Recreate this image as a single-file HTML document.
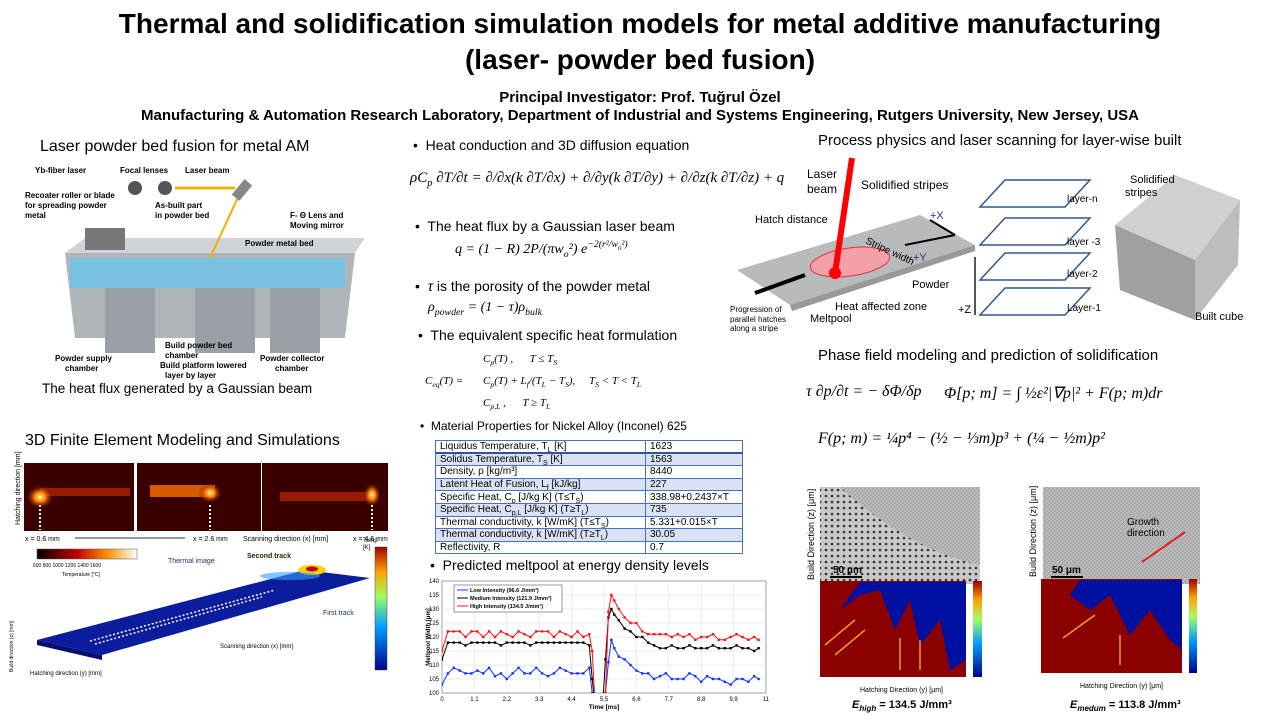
<!DOCTYPE html>
<html><head><meta charset="utf-8">
<style>
body{margin:0;width:1280px;height:720px;background:#fff;position:relative;overflow:hidden;font-family:"Liberation Sans",sans-serif;color:#000}
.a{position:absolute;white-space:nowrap}
sub,sup{line-height:0;font-size:70%}
.eq{font-family:"Liberation Serif",serif;font-style:italic}
table{border-collapse:collapse;font-size:10px}
td{border:1px solid #4472c4;padding:0 4px;height:12.6px;line-height:11px;box-sizing:border-box;overflow:hidden}
tr:nth-child(even) td{background:#d9e1f2}
</style></head><body>
<div class="a" style="left:0;width:1280px;text-align:center;top:8px;font-size:28px;font-weight:bold">Thermal and solidification simulation models for metal additive manufacturing</div>
<div class="a" style="left:0;width:1280px;text-align:center;top:44px;font-size:28px;font-weight:bold">(laser- powder bed fusion)</div>
<div class="a" style="left:0;width:1280px;text-align:center;top:89px;font-size:15px;font-weight:bold">Principal  Investigator: Prof. Tuğrul Özel</div>
<div class="a" style="left:0;width:1280px;text-align:center;top:107px;font-size:15px;font-weight:bold">Manufacturing &amp; Automation Research Laboratory, Department of Industrial and Systems Engineering, Rutgers University, New Jersey, USA</div>

<!-- left column -->
<div class="a" style="left:40px;top:138px;font-size:16px">Laser powder bed fusion for metal AM</div>
<svg class="a" style="left:25px;top:158px" width="350" height="228">
<polygon points="40,95 330,95 320,180 50,180" fill="#b0b5ba"/>
<polygon points="40,95 330,95 340,80 60,80" fill="#d0d4d8"/>
<rect x="45" y="100" width="275" height="30" fill="#6ec3e6" opacity=".85"/>
<rect x="80" y="130" width="50" height="65" fill="#9aa0a6"/><rect x="170" y="130" width="60" height="65" fill="#9aa0a6"/><rect x="245" y="130" width="50" height="65" fill="#9aa0a6"/>
<rect x="60" y="70" width="40" height="22" fill="#777"/>
<line x1="150" y1="30" x2="210" y2="30" stroke="#f0b000" stroke-width="3"/><line x1="215" y1="35" x2="185" y2="100" stroke="#f0b000" stroke-width="2"/>
<circle cx="110" cy="30" r="7" fill="#555"/><circle cx="140" cy="30" r="7" fill="#555"/><rect x="212" y="22" width="10" height="20" fill="#888" transform="rotate(40 217 32)"/>
<text x="10" y="15" font-size="8" font-weight="bold">Yb-fiber laser</text><text x="95" y="15" font-size="8" font-weight="bold">Focal lenses</text><text x="160" y="15" font-size="8" font-weight="bold">Laser beam</text>
<text x="265" y="60" font-size="8" font-weight="bold">F- Θ Lens and</text><text x="265" y="70" font-size="8" font-weight="bold">Moving mirror</text>
<text x="0" y="40" font-size="8" font-weight="bold">Recoater roller or blade</text><text x="0" y="50" font-size="8" font-weight="bold">for spreading powder</text><text x="0" y="60" font-size="8" font-weight="bold">metal</text>
<text x="130" y="50" font-size="8" font-weight="bold">As-built part</text><text x="130" y="60" font-size="8" font-weight="bold">in powder bed</text><text x="220" y="88" font-size="8" font-weight="bold">Powder metal bed</text>
<text x="140" y="190" font-size="8" font-weight="bold">Build powder bed</text><text x="140" y="200" font-size="8" font-weight="bold">chamber</text><text x="135" y="210" font-size="8" font-weight="bold">Build platform lowered</text><text x="140" y="220" font-size="8" font-weight="bold">layer by layer</text>
<text x="30" y="203" font-size="8" font-weight="bold">Powder supply</text><text x="40" y="213" font-size="8" font-weight="bold">chamber</text><text x="235" y="203" font-size="8" font-weight="bold">Powder collector</text><text x="250" y="213" font-size="8" font-weight="bold">chamber</text>
</svg>
<div class="a" style="left:42px;top:381px;font-size:13.5px">The heat flux generated by a Gaussian beam</div>
<div class="a" style="left:25px;top:432px;font-size:16px">3D Finite Element Modeling and Simulations</div>
<svg class="a" style="left:0;top:450px" width="400" height="260">
<defs><radialGradient id="hs"><stop offset="0" stop-color="#fff8a0"/><stop offset=".4" stop-color="#ff8000"/><stop offset="1" stop-color="#5a0000" stop-opacity="0"/></radialGradient>
<linearGradient id="tc"><stop offset="0" stop-color="#000"/><stop offset=".4" stop-color="#c00000"/><stop offset=".7" stop-color="#ff9000"/><stop offset="1" stop-color="#fff"/></linearGradient>
<linearGradient id="jet" x1="0" y1="1" x2="0" y2="0"><stop offset="0" stop-color="#00008f"/><stop offset=".35" stop-color="#00a0ff"/><stop offset=".6" stop-color="#a0ff60"/><stop offset=".8" stop-color="#ffa000"/><stop offset="1" stop-color="#a00000"/></linearGradient></defs>
<rect x="24" y="13" width="110" height="68" fill="#3a0000"/><rect x="137" y="13" width="124" height="68" fill="#3a0000"/><rect x="262" y="13" width="126" height="68" fill="#3a0000"/>
<rect x="40" y="38" width="90" height="8" fill="#b02000" opacity=".8"/><ellipse cx="40" cy="47" rx="14" ry="12" fill="url(#hs)"/>
<rect x="150" y="35" width="65" height="12" fill="#ff7000" opacity=".8"/><ellipse cx="210" cy="43" rx="12" ry="10" fill="url(#hs)"/>
<rect x="280" y="42" width="90" height="9" fill="#b02000" opacity=".8"/><ellipse cx="372" cy="45" rx="9" ry="12" fill="url(#hs)"/>
<line x1="40" y1="55" x2="40" y2="80" stroke="#fff" stroke-dasharray="2,2" stroke-width="2"/><line x1="210" y1="55" x2="210" y2="80" stroke="#fff" stroke-dasharray="2,2" stroke-width="2"/><line x1="372" y1="55" x2="372" y2="80" stroke="#fff" stroke-dasharray="2,2" stroke-width="2"/>
<text x="25" y="91" font-size="7">x = 0.6 mm</text><line x1="75" y1="88" x2="185" y2="88" stroke="#203060"/><text x="193" y="91" font-size="7">x = 2.6 mm</text><text x="243" y="91" font-size="7">Scanning direction (x) [mm]</text><text x="353" y="91" font-size="7">x = 4.6 mm</text>
<text x="20" y="75" font-size="7" transform="rotate(-90 20 75)">Hatching direction [mm]</text>
<rect x="37" y="99" width="100" height="10" fill="url(#tc)" stroke="#555" stroke-width=".5"/>
<text x="33" y="117" font-size="5">600   800   1000  1200  1400  1600</text><text x="62" y="126" font-size="5">Temperature [°C]</text>
<polygon points="37,190 305,120 370,128 102,205" fill="#0b1c9c"/><polygon points="37,190 102,205 102,210 37,195" fill="#071070"/>
<ellipse cx="312" cy="120" rx="14" ry="5" fill="#ffd000"/><ellipse cx="312" cy="119" rx="6" ry="2.5" fill="#c00000"/><ellipse cx="290" cy="126" rx="30" ry="4" fill="#30a0ff" opacity=".6"/>
<line x1="90" y1="191" x2="275" y2="140" stroke="#fff" stroke-dasharray="2,2" stroke-width="1.5"/><line x1="95" y1="194" x2="262" y2="147" stroke="#fff" stroke-dasharray="2,2" stroke-width="1.5"/>
<text x="168" y="113" font-size="7" fill="#203060">Thermal image</text><text x="247" y="108" font-size="7" font-weight="bold" fill="#302000">Second track</text><text x="323" y="165" font-size="7" fill="#203060">First track</text>
<text x="220" y="198" font-size="6">Scanning direction (x) [mm]</text><text x="30" y="225" font-size="6">Hatching direction (y) [mm]</text>
<text x="13" y="222" font-size="5" transform="rotate(-90 13 222)">Build direction (z) [mm]</text>
<rect x="375" y="97" width="12" height="123" fill="url(#jet)" stroke="#444" stroke-width=".5"/><text x="363" y="92" font-size="6">Temp</text><text x="363" y="99" font-size="6">[K]</text>
</svg>

<!-- middle column -->
<div class="a" style="left:413px;top:137px;font-size:14px">•&nbsp; Heat conduction and 3D diffusion equation</div>
<div class="a eq" style="left:410px;top:170px;font-size:15px">ρC<sub>p</sub> ∂T/∂t = ∂/∂x(k ∂T/∂x) + ∂/∂y(k ∂T/∂y) + ∂/∂z(k ∂T/∂z) + q</div>
<div class="a" style="left:415px;top:218px;font-size:14px">•&nbsp; The heat flux by a Gaussian laser beam</div>
<div class="a eq" style="left:455px;top:242px;font-size:14px">q = (1 − R) 2P/(πw<sub>o</sub>²) e<sup>−2(r²/w<sub>o</sub>²)</sup></div>
<div class="a" style="left:415px;top:278px;font-size:14px">•&nbsp; <i>τ</i> is the porosity of the powder metal</div>
<div class="a eq" style="left:428px;top:300px;font-size:14px">ρ<sub>powder</sub> = (1 − τ)ρ<sub>bulk</sub></div>
<div class="a" style="left:418px;top:327px;font-size:14px">•&nbsp; The equivalent specific heat formulation</div>
<div class="a eq" style="left:425px;top:348px;font-size:11px;line-height:22px">
<span style="position:absolute;top:22px">C<sub>eq</sub>(T) =</span>
<span style="position:absolute;left:58px;top:0">C<sub>p</sub>(T) ,&nbsp;&nbsp;&nbsp;&nbsp;&nbsp; T ≤ T<sub>S</sub></span>
<span style="position:absolute;left:58px;top:22px">C<sub>p</sub>(T) + L<sub>f</sub>/(T<sub>L</sub> − T<sub>S</sub>),&nbsp;&nbsp;&nbsp;&nbsp; T<sub>S</sub> &lt; T &lt; T<sub>L</sub></span>
<span style="position:absolute;left:58px;top:44px">C<sub>p,L</sub> ,&nbsp;&nbsp;&nbsp;&nbsp;&nbsp; T ≥ T<sub>L</sub></span></div>
<div class="a" style="left:420px;top:419px;font-size:12px">•&nbsp; Material Properties for Nickel Alloy (Inconel) 625</div>
<table class="a" style="left:435px;top:440px;width:308px">
<tr><td style="width:210px">Liquidus Temperature, T<sub>L</sub> [K]</td><td>1623</td></tr>
<tr><td style="border-top:2px solid #2f5597">Solidus Temperature, T<sub>S</sub> [K]</td><td style="border-top:2px solid #2f5597">1563</td></tr>
<tr><td>Density, ρ [kg/m³]</td><td>8440</td></tr>
<tr><td>Latent Heat of Fusion, L<sub>f</sub> [kJ/kg]</td><td>227</td></tr>
<tr><td>Specific Heat, C<sub>p</sub> [J/kg K] (T≤T<sub>S</sub>)</td><td>338.98+0.2437×T</td></tr>
<tr><td>Specific Heat, C<sub>p,L</sub> [J/kg K] (T≥T<sub>L</sub>)</td><td>735</td></tr>
<tr><td>Thermal conductivity, k [W/mK] (T≤T<sub>S</sub>)</td><td>5.331+0.015×T</td></tr>
<tr><td>Thermal conductivity, k [W/mK] (T≥T<sub>L</sub>)</td><td>30.05</td></tr>
<tr><td>Reflectivity, R</td><td>0.7</td></tr>
</table>
<div class="a" style="left:430px;top:557px;font-size:14px">•&nbsp; Predicted meltpool at energy density levels</div>
<svg class="a" id="chart" style="left:400px;top:575px" width="380" height="145"></svg>

<!-- right column -->
<div class="a" style="left:818px;top:132px;font-size:15px">Process physics and laser scanning for layer-wise built</div>
<svg class="a" style="left:730px;top:145px" width="540" height="190">
<polygon points="7,125 190,70 245,100 60,160" fill="#b8babc"/><polygon points="60,160 245,100 245,106 62,166" fill="#999"/>
<ellipse cx="120" cy="117" rx="40" ry="14" fill="#f4a0a8" stroke="#e03040" transform="rotate(-8 120 117)"/>
<line x1="122" y1="13" x2="105" y2="128" stroke="#f00" stroke-width="6"/><circle cx="105" cy="128" r="6" fill="#f00"/>
<line x1="75" y1="130" x2="25" y2="148" stroke="#000" stroke-width="4"/>
<line x1="175" y1="100" x2="225" y2="90" stroke="#000" stroke-width="2"/><line x1="225" y1="90" x2="200" y2="75" stroke="#000" stroke-width="2"/>
<text x="77" y="33" font-size="12">Laser</text><text x="77" y="48" font-size="12">beam</text><text x="131" y="44" font-size="12">Solidified stripes</text>
<text x="25" y="78" font-size="11">Hatch distance</text><text x="200" y="74" font-size="11" fill="#203080">+X</text><text x="183" y="116" font-size="11" fill="#203080">+Y</text>
<text x="135" y="98" font-size="10" transform="rotate(25 135 98)">Stripe width</text>
<text x="182" y="143" font-size="11">Powder</text><text x="105" y="165" font-size="11">Heat affected zone</text><text x="80" y="177" font-size="11">Meltpool</text>
<text x="0" y="167" font-size="8">Progression of</text><text x="0" y="177" font-size="8">parallel hatches</text><text x="0" y="186" font-size="8">along a stripe</text>
<g fill="none" stroke="#2f5597" stroke-width="1.5"><polygon points="250,62 275,35 360,35 335,62"/><polygon points="250,100 275,73 360,73 335,100"/><polygon points="250,135 275,108 360,108 335,135"/><polygon points="250,170 275,143 360,143 335,170"/></g>
<line x1="245" y1="170" x2="245" y2="112" stroke="#555" stroke-width="2"/><text x="228" y="168" font-size="11">+Z</text>
<text x="337" y="57" font-size="10">layer-n</text><text x="337" y="100" font-size="10">layer -3</text><text x="337" y="132" font-size="10">layer-2</text><text x="337" y="166" font-size="10">Layer-1</text>
<polygon points="385,80 445,30 510,55 465,115" fill="#d0d0d0"/><polygon points="385,80 465,115 465,175 390,145" fill="#a0a0a0"/><polygon points="465,115 510,55 508,120 465,175" fill="#bdbdbd"/>
<text x="400" y="38" font-size="11">Solidified</text><text x="395" y="51" font-size="11">stripes</text><text x="465" y="175" font-size="11">Built cube</text>
</svg>
<div class="a" style="left:818px;top:347px;font-size:15px">Phase field modeling and prediction of solidification</div>
<div class="a eq" style="left:806px;top:383px;font-size:16px">τ ∂p/∂t = − δΦ/δp</div>
<div class="a eq" style="left:944px;top:383px;font-size:16px">Φ[p; m] = ∫ ½ε²|∇p|² + F(p; m)dr</div>
<div class="a eq" style="left:818px;top:430px;font-size:16px">F(p; m) = ¼p⁴ − (½ − ⅓m)p³ + (¼ − ½m)p²</div>
<svg class="a" style="left:800px;top:470px" width="440" height="250">
<defs><pattern id="grain" width="6" height="6" patternUnits="userSpaceOnUse"><rect width="6" height="6" fill="#c8c8c8"/><circle cx="2" cy="2" r="1.3" fill="#333"/></pattern>
<pattern id="stri" width="4" height="4" patternUnits="userSpaceOnUse"><rect width="4" height="4" fill="#bcbcbc"/><line x1="0" y1="4" x2="4" y2="0" stroke="#888" stroke-width=".6"/></pattern>
<linearGradient id="jet2" x1="0" y1="1" x2="0" y2="0"><stop offset="0" stop-color="#00008f"/><stop offset=".35" stop-color="#00a0ff"/><stop offset=".6" stop-color="#a0ff60"/><stop offset=".8" stop-color="#ffa000"/><stop offset="1" stop-color="#a00000"/></linearGradient></defs>
<rect x="20" y="17" width="160" height="97" fill="url(#grain)"/><path d="M40,17 Q110,80 180,95 L180,17Z" fill="url(#stri)"/>
<rect x="243" y="17" width="157" height="97" fill="url(#stri)"/>
<line x1="30" y1="107" x2="62" y2="107" stroke="#000" stroke-width="2"/><text x="33" y="103" font-size="10" font-weight="bold">50 μm</text>
<line x1="251" y1="107" x2="283" y2="107" stroke="#000" stroke-width="2"/><text x="252" y="103" font-size="10" font-weight="bold">50 μm</text>
<text x="327" y="55" font-size="10" fill="#000">Growth</text><text x="327" y="66" font-size="10">direction</text><line x1="342" y1="92" x2="385" y2="62" stroke="#e02020" stroke-width="2"/>
<text x="14" y="110" font-size="9" transform="rotate(-90 14 110)">Build Direction (z) [μm]</text><text x="236" y="107" font-size="9" transform="rotate(-90 236 107)">Build Direction (z) [μm]</text>
<rect x="20" y="111" width="146" height="96" fill="#8b0000"/><path d="M60,112 L166,112 L166,190 L150,200 L140,150 L120,175 L110,130 L95,160 L80,120 L60,125 L40,140 Z" fill="#0010a0"/>
<rect x="241" y="109" width="141" height="94" fill="#8b0000"/><path d="M280,110 L382,110 L382,180 L370,170 L350,140 L330,165 L310,125 L290,140 L270,125 Z" fill="#0010a0"/>
<g stroke="#f0a020" stroke-width="1.5"><line x1="25" y1="175" x2="55" y2="150"/><line x1="35" y1="185" x2="65" y2="160"/><line x1="100" y1="200" x2="100" y2="168"/><line x1="120" y1="200" x2="120" y2="170"/><line x1="263" y1="168" x2="295" y2="145"/><line x1="320" y1="195" x2="320" y2="165"/></g>
<rect x="173" y="111" width="9" height="96" fill="url(#jet2)"/><rect x="389" y="109" width="8" height="94" fill="url(#jet2)"/>
<text x="60" y="222" font-size="7">Hatching Direction (y) [μm]</text><text x="280" y="218" font-size="7">Hatching Direction (y) [μm]</text>
<text x="52" y="238" font-size="11" font-weight="bold"><tspan font-style="italic">E<tspan font-size="8" dy="3">high</tspan></tspan><tspan dy="-3"> = 134.5 J/mm³</tspan></text>
<text x="270" y="238" font-size="11" font-weight="bold"><tspan font-style="italic">E<tspan font-size="8" dy="3">medum</tspan></tspan><tspan dy="-3"> = 113.8 J/mm³</tspan></text>
</svg>

<script>
const timeA=[0,0.2,0.4,0.6,0.8,1.0,1.2,1.4,1.6,1.8,2.0,2.2,2.4,2.6,2.8,3.0,3.2,3.4,3.6,3.8,4.0,4.2,4.4,4.6,4.8,5.0,5.1,5.2];
const lowA=[103,107,109,108,107,107,108,107,109,106,107,105,107,109,107,107,109,107,106,107,109,108,107,107,107,109,100,95];
const medA=[112,118,118,118,117,118,118,118,118,118,117,118,118,118,118,117,118,118,118,118,118,118,118,118,118,117,105,95];
const highA=[115,122,122,122,120,122,122,120,122,120,122,121,120,122,121,120,122,122,122,120,122,121,120,122,120,121,115,95];
const timeB=[5.45,5.55,5.65,5.75,5.85,6.0,6.2,6.4,6.6,6.8,7.0,7.2,7.4,7.6,7.8,8.0,8.2,8.4,8.6,8.8,9.0,9.2,9.4,9.6,9.8,10.0,10.2,10.4,10.6,10.75];
const lowB=[95,100,111,119,116,113,112,110,108,107,107,105,106,107,105,105,105,107,106,104,106,105,105,104,103,105,105,104,106,105];
const medB=[95,112,127,130,128,126,123,122,120,120,118,117,116,116,117,116,116,117,116,116,116,117,116,116,116,117,116,116,115,116];
const highB=[95,100,129,135,133,130,127,125,125,122,121,121,121,121,120,121,120,121,119,120,120,121,119,119,120,121,120,119,120,119];
const xTicks=[0,1.1,2.2,3.3,4.4,5.5,6.6,7.7,8.8,9.9,11];
const yTicks=[100,105,110,115,120,125,130,135,140];
const seriesNames=["Low Intensity (96.6 J/mm³)","Medium Intensity (121.9 J/mm³)","High Intensity (134.5 J/mm³)"];
const colors=["#1030ff","#000","#ff1010"];
const svg=document.getElementById('chart');const NS="http://www.w3.org/2000/svg";
const L=42,R=366,T=6,B=118;
const xs=t=>L+t/11*(R-L), ys=v=>B-(v-100)/40*(B-T);
function mk(tag,attrs){const e=document.createElementNS(NS,tag);for(const k in attrs)e.setAttribute(k,attrs[k]);svg.appendChild(e);return e;}
const defs=mk('defs',{});const cp=document.createElementNS(NS,'clipPath');cp.setAttribute('id','pc');const cr=document.createElementNS(NS,'rect');
cr.setAttribute('x',L);cr.setAttribute('y',T);cr.setAttribute('width',R-L);cr.setAttribute('height',B-T);cp.appendChild(cr);defs.appendChild(cp);
const bg=mk('rect',{x:L,y:T,width:R-L,height:B-T,fill:'#fff',stroke:'#222','stroke-width':0.7});


xTicks.forEach(t=>{const g=mk('line',{x1:xs(t),x2:xs(t),y1:T,y2:B,stroke:'#ddd','stroke-width':0.5});


const tx=mk('text',{x:xs(t),y:B+8,'font-size':6,'text-anchor':'middle'});tx.textContent=t;

});
yTicks.forEach(v=>{const g=mk('line',{x1:L,x2:R,y1:ys(v),y2:ys(v),stroke:'#ddd','stroke-width':0.5});


const tx=mk('text',{x:L-3,y:ys(v)+2,'font-size':6,'text-anchor':'end'});tx.textContent=v;

});
const sets=[[lowA,lowB],[medA,medB],[highA,highB]];
sets.forEach((s,i)=>{[[timeA,s[0]],[timeB,s[1]]].forEach(([ts,vs])=>{
const p=mk('polyline',{points:ts.map((t,j)=>xs(t)+','+ys(vs[j])).join(' '),fill:'none',stroke:colors[i],'stroke-width':1,'clip-path':'url(#pc)'});


ts.forEach((t,j)=>{const m=mk('rect',{x:xs(t)-1.2,y:ys(vs[j])-1.2,width:2.4,height:2.4,fill:colors[i],'clip-path':'url(#pc)'});

});});});
const lg=mk('rect',{x:54,y:10,width:108,height:27,fill:'#fff',stroke:'#333','stroke-width':0.5});


seriesNames.forEach((n,i)=>{const ln=mk('line',{x1:57,x2:68,y1:15+i*8,y2:15+i*8,stroke:colors[i]});


const tx=mk('text',{x:70,y:17+i*8,'font-size':5.5,'font-weight':'bold'});tx.textContent=n;

});
const xl=mk('text',{x:(L+R)/2,y:B+16,'font-size':6.5,'font-weight':'bold','text-anchor':'middle'});xl.textContent='Time [ms]';


const yl=mk('text',{x:0,y:0,'font-size':6,'font-weight':'bold','text-anchor':'middle',transform:'translate(30,'+(T+B)/2+') rotate(-90)'});yl.textContent='Meltpool Width [μm]';


</script>
</body></html>
